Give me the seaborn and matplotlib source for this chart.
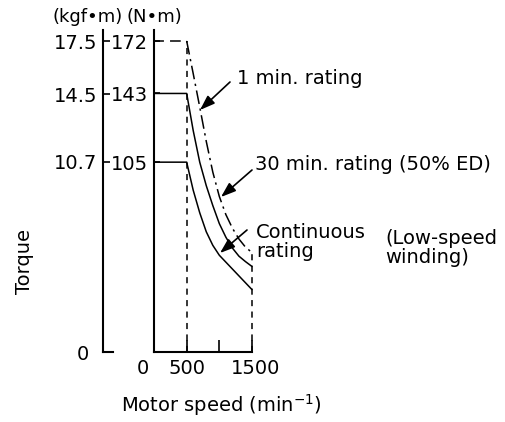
import matplotlib
matplotlib.use("Agg")
import matplotlib.pyplot as plt
import seaborn as sns
import pandas as pd
from matplotlib.transforms import ScaledTranslation

# Valores (torque em N·m por rotação em min-1)
speed = [0, 500, 600, 700, 800, 900, 1000, 1100, 1200, 1300, 1400, 1500]
torque_1min = [172, 172, 154, 135.5, 116.5, 99.5, 86, 76, 68.5, 62.5, 58, 55]
torque_30min = [143, 143, 122.5, 105, 92, 81, 71, 63.5, 57.5, 53, 50, 47.3]
torque_cont = [105, 105, 89.5, 77, 66.5, 59, 53.5, 49.7, 45.9, 42.1, 38.3, 34.5]

nm_ticks = [172, 143, 105]
kgf_ticks = [17.5, 14.5, 10.7]
speed_ticks = [0, 500, 1000, 1500]
speed_labels = ['0', '500', '', '1500']
limit_speeds = [500, 1500]

df = pd.DataFrame({'speed': speed, 't1': torque_1min, 't30': torque_30min, 'tc': torque_cont})

sns.set_style('ticks')
plt.rcParams['font.family'] = ['DejaVu Sans']
plt.rcParams['mathtext.fontset'] = 'dejavusans'
plt.rcParams['text.color'] = 'black'
plt.rcParams['axes.edgecolor'] = 'black'
plt.rcParams['xtick.color'] = 'black'
plt.rcParams['ytick.color'] = 'black'
FS = 14

W, H = 505, 422
fig = plt.figure(figsize=(W / 100, H / 100), dpi=100)
ymax = 322 / 1.808

# Eixo principal (N·m)
ax = fig.add_axes([154 / W, 1 - 352 / H, 98 / W, 322 / H])
lw = 1.1
sns.lineplot(data=df, x='speed', y='tc', ax=ax, color='black', lw=lw, sort=False, clip_on=False)
sns.lineplot(data=df, x='speed', y='t30', ax=ax, color='black', lw=lw, sort=False, clip_on=False)
sns.lineplot(data=df.iloc[1:], x='speed', y='t1', ax=ax, color='black', lw=lw, sort=False,
             clip_on=False, linestyle=(0, (9, 3, 1.5, 3)))
sns.lineplot(data=df.iloc[:2], x='speed', y='t1', ax=ax, color='black', lw=lw, sort=False,
             clip_on=False, linestyle=(0.5, (7, 4)))
# Linhas verticais tracejadas em 500 e 1500
ax.plot([limit_speeds[0]] * 2, [0, torque_1min[1]], color='black', lw=lw, ls=(0, (4, 3.5)), clip_on=False)
ax.plot([limit_speeds[1]] * 2, [0, torque_1min[-1]], color='black', lw=lw, ls=(0, (4, 3.5)), clip_on=False)

ax.set_xlim(0, 1500)
ax.set_ylim(0, ymax)
ax.set_xlabel('')
ax.set_ylabel('')
sns.despine(ax=ax)
for s in ['left', 'bottom']:
    ax.spines[s].set_linewidth(1.5)
ax.set_yticks(nm_ticks)
ax.set_yticklabels([str(v) for v in nm_ticks], fontsize=FS)
ax.set_xticks(speed_ticks)
ax.set_xticklabels(speed_labels, fontsize=FS)
ax.tick_params(axis='y', direction='in', length=4, width=1.2, pad=4)
ax.tick_params(axis='x', direction='in', length=9, width=1.2, pad=5)
ax.xaxis.get_major_ticks()[0].tick1line.set_visible(False)
lbls = ax.get_xticklabels()
lbls[0].set_transform(lbls[0].get_transform() + ScaledTranslation(-11 / 100, 0, fig.dpi_scale_trans))
lbls[3].set_transform(lbls[3].get_transform() + ScaledTranslation(4 / 100, 0, fig.dpi_scale_trans))

# Eixo secundário (kgf·m)
ax2 = fig.add_axes([103 / W, 1 - 352 / H, 10 / W, 322 / H])
ax2.set_ylim(0, ymax * 17.5 / 172)
ax2.set_xlim(0, 1)
sns.despine(ax=ax2)
for s in ['left', 'bottom']:
    ax2.spines[s].set_linewidth(1.5)
ax2.set_xticks([])
ax2.set_yticks(kgf_ticks)
ax2.set_yticklabels([str(v) for v in kgf_ticks], fontsize=FS)
ax2.tick_params(axis='y', direction='in', length=5, width=1.2, pad=4)
ax2.patch.set_alpha(0)


def fx(x):
    return x / W


def fy(y):
    return 1 - y / H


fig.text(fx(83), fy(354), '0', fontsize=FS, ha='center', va='center')
fig.text(fx(52), fy(17), '(kgf•m)', fontsize=13, ha='left', va='center')
fig.text(fx(127), fy(17), '(N•m)', fontsize=13, ha='left', va='center')
fig.text(fx(25), fy(262), 'Torque', fontsize=FS, ha='center', va='center', rotation=90)
fig.text(fx(221), fy(405), 'Motor speed (min$^{-1}$)', fontsize=FS, ha='center', va='center')

fig.text(fx(237), fy(78), '1 min. rating', fontsize=FS, ha='left', va='center')
fig.text(fx(255), fy(164), '30 min. rating (50% ED)', fontsize=FS, ha='left', va='center')
fig.text(fx(256), fy(242), 'Continuous\nrating', fontsize=FS, ha='left', va='center', linespacing=1.0)
fig.text(fx(385), fy(248), '(Low-speed\nwinding)', fontsize=FS, ha='left', va='center', linespacing=1.0)

arrows = [((230, 82), (200, 110)), ((252, 170), (221, 197)), ((247, 230), (220, 253))]
for (x0, y0), (x1, y1) in arrows:
    ax.annotate('', xy=(fx(x1), fy(y1)), xytext=(fx(x0), fy(y0)),
                xycoords='figure fraction', textcoords='figure fraction', annotation_clip=False,
                arrowprops=dict(arrowstyle='-|>,head_length=0.45,head_width=0.16', color='black',
                                lw=1.2, shrinkA=0, shrinkB=0, mutation_scale=20))

fig.savefig('out.png', dpi=100)
